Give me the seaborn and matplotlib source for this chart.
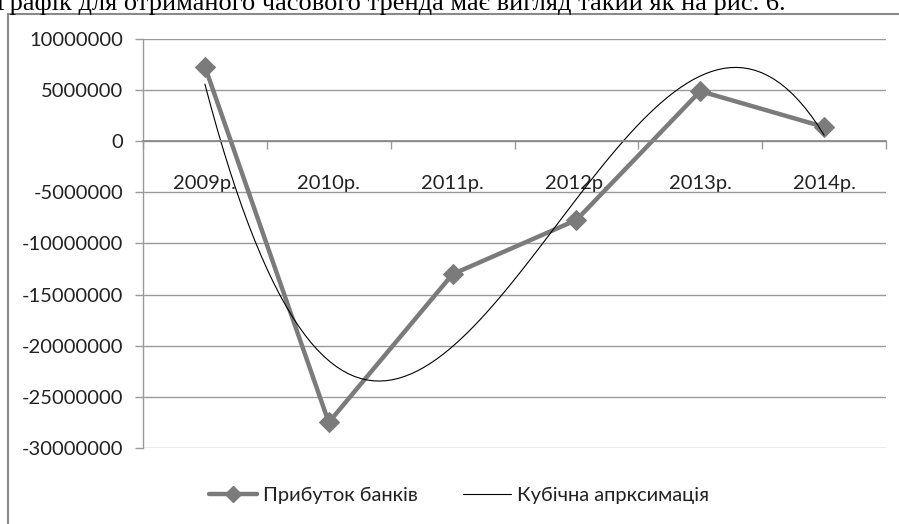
import matplotlib
matplotlib.use("Agg")
import matplotlib.pyplot as plt
from matplotlib.lines import Line2D
import numpy as np
import pandas as pd
import seaborn as sns

# ---- data ----
years = ["2009р.", "2010р.", "2011р.", "2012р.", "2013р.", "2014р."]
profit = [7300000, -27500000, -13000000, -7700000, 4900000, 1400000]
series_label = "Прибуток банків"
trend_label = "Кубічна апрксимація"
yticks = [10000000, 5000000, 0, -5000000, -10000000, -15000000,
          -20000000, -25000000, -30000000]
header = "Графік для отриманого часового тренда має вигляд такий як на рис. 6."

sns.set_theme(style="white")
plt.rcParams["font.family"] = ["Lato", "DejaVu Sans"]

W, H = 899, 524
fig = plt.figure(figsize=(W / 100, H / 100), dpi=100)
fig.patch.set_facecolor("white")

L, R, T, B = 143, 886, 39, 448
ax = fig.add_axes([L / W, 1 - B / H, (R - L) / W, (B - T) / H])

df = pd.DataFrame({"pos": np.arange(1, len(years) + 1), "val": profit})

grey = "#7b7b7b"
gridc = "#9a9a9a"

sns.lineplot(data=df, x="pos", y="val", ax=ax, color=grey, lw=3.2,
             marker="D", markersize=10, markeredgecolor=grey,
             markerfacecolor=grey, label=series_label, legend=False)
sns.regplot(data=df, x="pos", y="val", ax=ax, order=3, ci=None,
            scatter=False, line_kws=dict(color="black", lw=0.8),
            label=trend_label)

ax.set_xlim(0.5, len(years) + 0.5)
ax.set_ylim(-30000000, 10000000)
ax.set_yticks(yticks)
ax.set_yticklabels([str(v) for v in yticks])
ax.yaxis.grid(True, color=gridc, lw=1)
ax.set_axisbelow(True)

ax.set_xticks(df["pos"])
ax.set_xticklabels(years)
ax.set_xticks(np.arange(0.5, len(years) + 1, 1.0), minor=True)
ax.tick_params(axis="x", which="major", length=0, pad=24, labelsize=14.5,
               labelcolor="#222222")
ax.tick_params(axis="x", which="minor", length=6, color=gridc, width=1,
               direction="out", bottom=True)
ax.tick_params(axis="y", length=6, color=gridc, width=1, direction="out",
               left=True, pad=8, labelsize=14.5, labelcolor="#222222")
ax.set_xlabel("")
ax.set_ylabel("")

for s in ["top", "right"]:
    ax.spines[s].set_visible(False)
ax.spines["left"].set_color(gridc)
ax.spines["bottom"].set_color("#888888")
ax.spines["bottom"].set_position(("data", 0))
ax.spines["left"].set_linewidth(1)

handles = [
    Line2D([], [], color=grey, lw=3.2, marker="D", markersize=8,
           markerfacecolor=grey, markeredgecolor=grey),
    Line2D([], [], color="black", lw=0.8),
]
fig.legend(handles, [series_label, trend_label], loc="center",
           bbox_to_anchor=(459 / W, 1 - 495 / H), ncol=2, frameon=False,
           fontsize=14.5, handlelength=2.4, handletextpad=0.3,
           columnspacing=2.2, labelcolor="#222222")

# frame around the figure region
fig.add_artist(Line2D([8 / W, 8 / W], [0, 1 - 14 / H], color="#8a8a8a",
                      lw=1.5, transform=fig.transFigure))
fig.add_artist(Line2D([8 / W, 1], [1 - 14 / H, 1 - 14 / H], color="#8a8a8a",
                      lw=1.5, transform=fig.transFigure))

fig.text(-4 / W, 1 - 10 / H, header, family=["Liberation Serif"],
         fontsize=19, ha="left", va="baseline", color="black")

fig.savefig("out.png", dpi=100, facecolor="white")
